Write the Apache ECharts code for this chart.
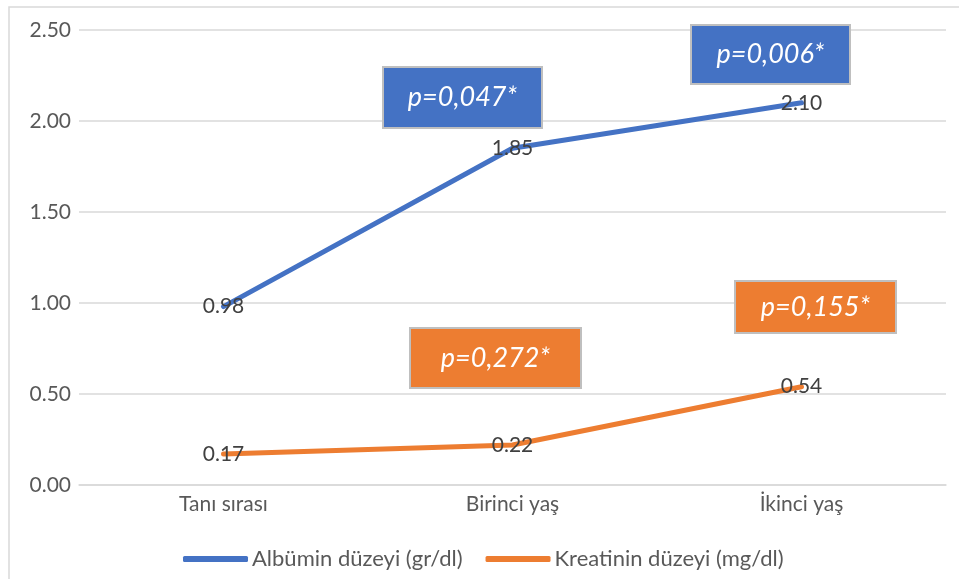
<!DOCTYPE html>
<html>
<head>
<meta charset="utf-8">
<script src="https://cdn.jsdelivr.net/npm/echarts@6/dist/echarts.min.js"></script>
<style>
  html, body { margin: 0; padding: 0; background: #fff; }
  #chart { width: 959px; height: 579px; }
</style>
</head>
<body>
<div id="chart"></div>
<script>
// Time points and measured means
const categories = ['Tanı sırası', 'Birinci yaş', 'İkinci yaş'];
const albumin = [0.98, 1.85, 2.10];
const kreatinin = [0.17, 0.22, 0.54];
const seriesNames = ['Albümin düzeyi (gr/dl)', 'Kreatinin düzeyi (mg/dl)'];
const yTicks = { min: 0, max: 2.5, interval: 0.5 };

// Significance notes shown in boxes
const notes = [
  { text: 'p=0,047*', color: '#4472C4', x: 383, y: 67, w: 159, h: 61 },
  { text: 'p=0,006*', color: '#4472C4', x: 691, y: 25, w: 159, h: 59 },
  { text: 'p=0,272*', color: '#ED7D31', x: 410, y: 328, w: 171, h: 60 },
  { text: 'p=0,155*', color: '#ED7D31', x: 735, y: 281, w: 161, h: 52 }
];

const FONT = 'Lato, "Open Sans", sans-serif';
const chart = echarts.init(document.getElementById('chart'), null, { renderer: 'canvas' });

const labelCfg = {
  show: true,
  position: 'inside',
  color: '#404040',
  fontSize: 21,
  fontFamily: FONT,
  formatter: p => p.value.toFixed(2)
};

const graphics = [
  {
    type: 'rect', silent: true, z: -1,
    shape: { x: 9, y: 7, width: 1000, height: 700 },
    style: { fill: 'none', stroke: '#d9d9d9', lineWidth: 1.5 }
  }
];
notes.forEach(n => {
  graphics.push({
    type: 'rect', z: 100, zlevel: 0,
    shape: { x: n.x, y: n.y, width: n.w, height: n.h },
    style: { fill: n.color, stroke: '#bfbfbf', lineWidth: 2 }
  });
  graphics.push({
    type: 'text', z: 101, zlevel: 0,
    x: n.x + n.w / 2, y: n.y + n.h / 2,
    style: {
      text: n.text, fill: '#fff', fontSize: 27, fontStyle: 'italic',
      fontFamily: FONT, align: 'center', verticalAlign: 'middle'
    }
  });
});

chart.setOption({
  animation: false,
  backgroundColor: '#fff',
  grid: { left: 79, right: 13, top: 30, bottom: 94, containLabel: false },
  legend: {
    top: 543, left: 178,
    itemWidth: 65, itemHeight: 6, itemGap: 23,
    icon: 'roundRect',
    textStyle: { color: '#595959', fontSize: 22, fontFamily: FONT, padding: [0, 0, 0, -1] },
    data: seriesNames
  },
  xAxis: {
    type: 'category',
    data: categories,
    boundaryGap: true,
    axisLine: { show: true, lineStyle: { color: '#d9d9d9', width: 1.5 } },
    axisTick: { show: false },
    axisLabel: { color: '#595959', fontSize: 21, fontFamily: FONT, margin: 9 }
  },
  yAxis: {
    type: 'value',
    min: yTicks.min, max: yTicks.max, interval: yTicks.interval,
    axisLine: { show: false },
    axisTick: { show: false },
    splitLine: { lineStyle: { color: '#d9d9d9', width: 1.5 } },
    axisLabel: {
      color: '#595959', fontSize: 21, fontFamily: FONT, margin: 8,
      formatter: v => v.toFixed(2)
    }
  },
  series: [
    {
      name: seriesNames[0], type: 'line', data: albumin,
      symbol: 'circle', symbolSize: 1, showSymbol: true,
      color: '#4472C4',
      lineStyle: { width: 5, color: '#4472C4', cap: 'round' },
      itemStyle: { color: '#4472C4' },
      label: labelCfg
    },
    {
      name: seriesNames[1], type: 'line', data: kreatinin,
      symbol: 'circle', symbolSize: 1, showSymbol: true,
      color: '#ED7D31',
      lineStyle: { width: 5, color: '#ED7D31', cap: 'round' },
      itemStyle: { color: '#ED7D31' },
      label: labelCfg
    }
  ],
  graphic: graphics
});
</script>
</body>
</html>
